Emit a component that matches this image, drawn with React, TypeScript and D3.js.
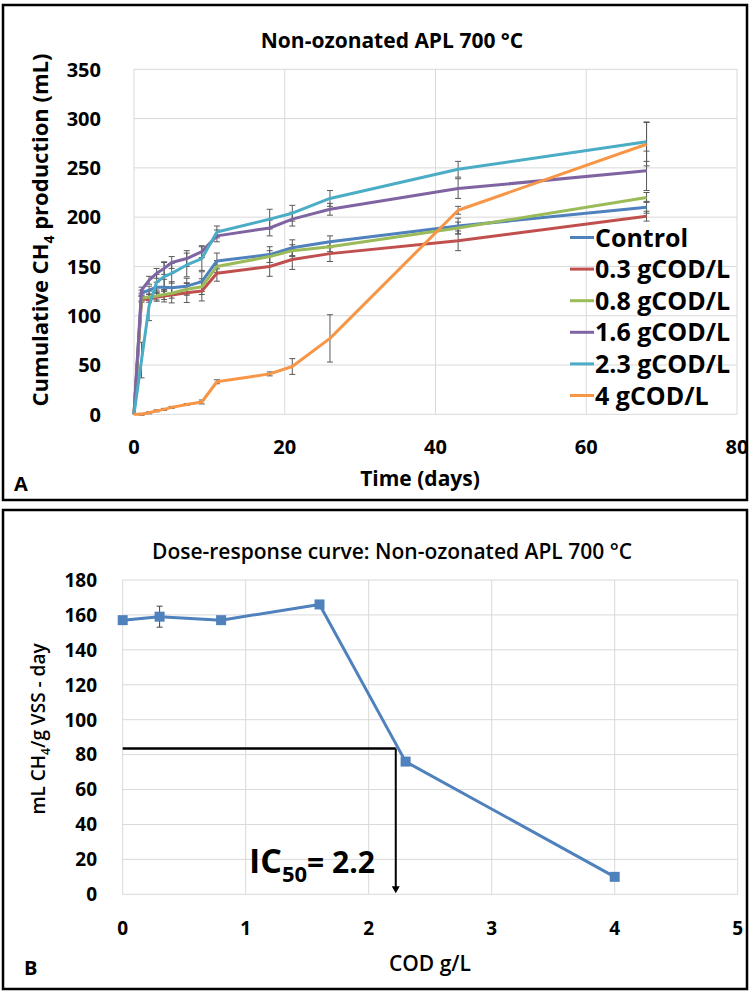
import React from "react";
import * as d3 from "d3";

// ---------- Data: panel A ----------
const days = [0, 1, 2, 3, 4, 5, 7, 9, 11, 18, 21, 26, 43, 68];
const seriesNames = ["Control", "0.3 gCOD/L", "0.8 gCOD/L", "1.6 gCOD/L", "2.3 gCOD/L", "4 gCOD/L"];
const seriesColors = ["#4F81BD", "#C0504D", "#9BBB59", "#8064A2", "#4BACC6", "#F79646"];
const controlVals = [0, 123, 126, 129, 129, 128.5, 130, 134.6, 155.6, 162, 169, 175, 191, 210];
const cod03Vals = [0, 116.7, 116.7, 118.7, 120, 121, 123.4, 125, 143, 150, 157, 163, 176, 201];
const cod08Vals = [0, 118, 118.7, 120, 121.5, 122.8, 126.8, 129.5, 150, 160, 166, 170, 189, 220];
const cod16Vals = [0, 126, 136, 143, 148, 154, 158, 165, 181, 189, 198, 208, 229, 247];
const cod23Vals = [0, 55, 110, 134, 139.7, 143, 151.5, 158, 185, 198, 204, 219, 248.6, 276.6];
const cod4Vals = [0, 0, 1.5, 3.5, 5, 7, 10, 12.5, 33, 41, 48.5, 77, 207, 274];
const controlErr = [0, 3, 4, 5, 8, 6, 8, 10, 8, 8, 8, 6, 8, 6];
const cod03Err = [0, 3, 3, 4, 6, 8, 10, 10, 8, 10, 10, 8, 10, 5];
const cod08Err = [0, 3, 3, 4, 5, 5, 6, 8, 6, 6, 6, 5, 6, 5];
const cod16Err = [0, 3, 4, 5, 6, 6, 8, 6, 6, 8, 7, 6, 10, 20];
const cod23Err = [0, 18, 15, 8, 15, 10, 12, 12, 6, 10, 8, 8, 8, 20];
const cod4Err = [0, 1, 1, 1, 1, 1, 1, 2, 2, 2, 8, 24, 4, 22];
const xTicksA = [0, 20, 40, 60, 80];
const yTicksA = [0, 50, 100, 150, 200, 250, 300, 350];

// ---------- Data: panel B ----------
const codDose = [0, 0.3, 0.8, 1.6, 2.3, 4];
const methaneRate = [157, 159, 157, 166, 76, 10];
const methaneErr = [0, 6, 0, 0, 0, 0];
const xTicksB = [0, 1, 2, 3, 4, 5];
const yTicksB = [0, 20, 40, 60, 80, 100, 120, 140, 160, 180];
const ic50Value = 2.22;
const halfRate = 83.5;

const FONT = "'Open Sans', 'Noto Sans', sans-serif";

export default function App() {
  // Panel A scales
  const xA = d3.scaleLinear().domain([0, 80]).range([134, 737]);
  const yA = d3.scaleLinear().domain([0, 350]).range([414.3, 69.3]);
  const vals = [controlVals, cod03Vals, cod08Vals, cod16Vals, cod23Vals, cod4Vals];
  const errs = [controlErr, cod03Err, cod08Err, cod16Err, cod23Err, cod4Err];
  const lineA = d3
    .line<number>()
    .x((_, i) => xA(days[i]))
    .y((d) => yA(d));

  // Panel B scales
  const xB = d3.scaleLinear().domain([0, 5]).range([122.7, 737.7]);
  const yB = d3.scaleLinear().domain([0, 180]).range([894.3, 580]);
  const lineB = d3
    .line<number>()
    .x((_, i) => xB(codDose[i]))
    .y((d) => yB(d));

  const grid = "#D9D9D9";
  const legendX = 570;
  const legendY0 = 237.5;
  const legendDy = 31.6;

  return (
    <svg width={750} height={991} style={{ display: "block", position: "absolute", left: 0, top: 0 }}>
      <rect x={0} y={0} width={750} height={991} fill="#fff" />
      {/* Frames */}
      <rect x={3} y={5} width={744} height={495} fill="none" stroke="#000" strokeWidth={2.5} />
      <rect x={3} y={510} width={744} height={479} fill="none" stroke="#000" strokeWidth={2.5} />

      {/* ---------------- Panel A ---------------- */}
      <g fontFamily={FONT} fontWeight={700}>
        {yTicksA.map((t) => (
          <line key={"gy" + t} x1={xA(0)} x2={xA(80)} y1={yA(t)} y2={yA(t)} stroke={grid} strokeWidth={1} />
        ))}
        {xTicksA.map((t) => (
          <line key={"gx" + t} x1={xA(t)} x2={xA(t)} y1={yA(0)} y2={yA(350)} stroke={grid} strokeWidth={1} />
        ))}
        {/* error bars */}
        {vals.map((s, si) =>
          s.map((v, i) => {
            const e = errs[si][i];
            if (!e) return null;
            const x = xA(days[i]);
            return (
              <g key={`eb${si}-${i}`} stroke="#595959" strokeWidth={1}>
                <line x1={x} x2={x} y1={yA(v - e)} y2={yA(v + e)} />
                <line x1={x - 3} x2={x + 3} y1={yA(v - e)} y2={yA(v - e)} />
                <line x1={x - 3} x2={x + 3} y1={yA(v + e)} y2={yA(v + e)} />
              </g>
            );
          })
        )}
        {vals.map((s, si) => (
          <path key={"l" + si} d={lineA(s) || ""} fill="none" stroke={seriesColors[si]} strokeWidth={3} strokeLinejoin="round" />
        ))}
        {/* tick labels */}
        {yTicksA.map((t) => (
          <text key={"ty" + t} x={101} y={yA(t)} dy="0.36em" textAnchor="end" fontSize={20} fill="#000">
            {t}
          </text>
        ))}
        {xTicksA.map((t) => (
          <text key={"tx" + t} x={xA(t)} y={447} dy="0.36em" textAnchor="middle" fontSize={20} fill="#000">
            {t}
          </text>
        ))}
        <text x={392} y={40} dy="0.36em" textAnchor="middle" fontSize={21} fill="#000">
          Non-ozonated APL 700 °C
        </text>
        <text x={420} y={478} dy="0.36em" textAnchor="middle" fontSize={21} fill="#000">
          Time (days)
        </text>
        <text x={14} y={484} dy="0.36em" fontSize={20} fill="#000">
          A
        </text>
        <text transform="translate(40,230) rotate(-90)" textAnchor="middle" dy="0.36em" fontSize={22} fill="#000">
          Cumulative CH
          <tspan fontSize={14} dy="6">4</tspan>
          <tspan dy="-6"> production (mL)</tspan>
        </text>
        {/* legend */}
        {seriesNames.map((n, i) => (
          <g key={"lg" + i}>
            <line x1={legendX} x2={legendX + 24} y1={legendY0 + i * legendDy} y2={legendY0 + i * legendDy} stroke={seriesColors[i]} strokeWidth={3} />
            <text x={legendX + 25} y={legendY0 + i * legendDy} dy="0.36em" fontSize={25} fill="#000">
              {n}
            </text>
          </g>
        ))}
      </g>

      {/* ---------------- Panel B ---------------- */}
      <g fontFamily={FONT} fontWeight={700}>
        {yTicksB.map((t) => (
          <line key={"bgy" + t} x1={xB(0)} x2={xB(5)} y1={yB(t)} y2={yB(t)} stroke={grid} strokeWidth={1} />
        ))}
        {xTicksB.map((t) => (
          <line key={"bgx" + t} x1={xB(t)} x2={xB(t)} y1={yB(0)} y2={yB(180)} stroke={grid} strokeWidth={1} />
        ))}
        {/* IC50 guide lines */}
        <line x1={xB(0)} x2={xB(ic50Value)} y1={yB(halfRate)} y2={yB(halfRate)} stroke="#000" strokeWidth={2.5} />
        <line x1={xB(ic50Value)} x2={xB(ic50Value)} y1={yB(halfRate)} y2={yB(0) - 6} stroke="#000" strokeWidth={2} />
        <path
          d={`M${xB(ic50Value) - 4},${yB(0) - 8} L${xB(ic50Value) + 4},${yB(0) - 8} L${xB(ic50Value)},${yB(0) - 1} Z`}
          fill="#000"
        />
        {/* series */}
        <path d={lineB(methaneRate) || ""} fill="none" stroke="#4F81BD" strokeWidth={3} strokeLinejoin="round" />
        {methaneRate.map((v, i) => {
          const e = methaneErr[i];
          if (!e) return null;
          const x = xB(codDose[i]);
          return (
            <g key={"beb" + i} stroke="#404040" strokeWidth={1}>
              <line x1={x} x2={x} y1={yB(v - e)} y2={yB(v + e)} />
              <line x1={x - 3} x2={x + 3} y1={yB(v - e)} y2={yB(v - e)} />
              <line x1={x - 3} x2={x + 3} y1={yB(v + e)} y2={yB(v + e)} />
            </g>
          );
        })}
        {methaneRate.map((v, i) => (
          <rect key={"bm" + i} x={xB(codDose[i]) - 5} y={yB(v) - 5} width={10} height={10} fill="#4F81BD" />
        ))}
        {yTicksB.map((t) => (
          <text key={"bty" + t} x={97} y={yB(t)} dy="0.36em" textAnchor="end" fontSize={19} fill="#000">
            {t}
          </text>
        ))}
        {xTicksB.map((t) => (
          <text key={"btx" + t} x={xB(t)} y={928} dy="0.36em" textAnchor="middle" fontSize={19} fill="#000">
            {t}
          </text>
        ))}
        <text x={392} y={551} dy="0.36em" textAnchor="middle" fontSize={21} fontWeight={600} fill="#000">
          Dose-response curve: Non-ozonated APL 700 °C
        </text>
        <text x={430} y={963} dy="0.36em" textAnchor="middle" fontSize={21} fontWeight={600} fill="#000">
          COD g/L
        </text>
        <text x={24} y={968} dy="0.36em" fontSize={20} fill="#000">
          B
        </text>
        <text transform="translate(38,729) rotate(-90)" textAnchor="middle" dy="0.36em" fontSize={19} fontWeight={600} fill="#000">
          mL CH
          <tspan fontSize={12} dy="5">4</tspan>
          <tspan dy="-5">/g VSS - day</tspan>
        </text>
        <text x={249} y={873} fontSize={34} fill="#000">
          IC
          <tspan fontSize={22} dy="9">50</tspan>
          <tspan dy="-9" fontSize={30}>= 2.2</tspan>
        </text>
      </g>
    </svg>
  );
}
